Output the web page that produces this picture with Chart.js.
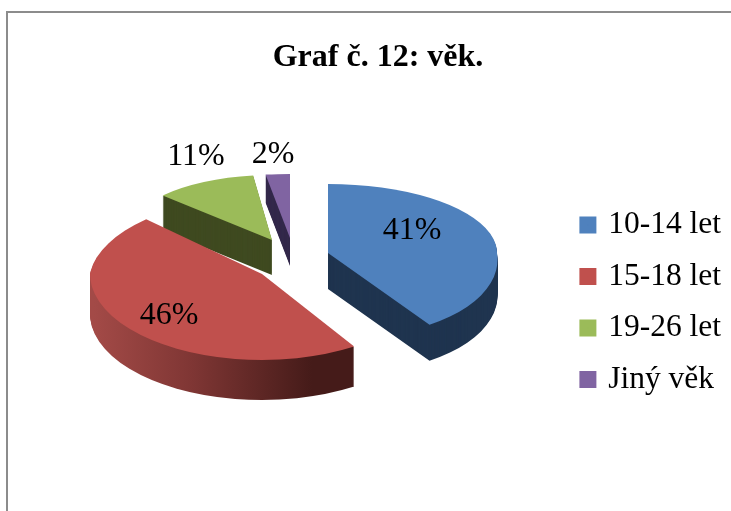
<!DOCTYPE html>
<html><head><meta charset="utf-8">
<style>html,body{margin:0;padding:0;background:#fff;overflow:hidden}canvas{display:block}</style>
<script src="https://cdn.jsdelivr.net/npm/chart.js@4"></script>
</head><body><canvas id="c" width="731" height="511"></canvas>
<script>
const categories = ['10-14 let','15-18 let','19-26 let','Jiný věk'];
const values = [41,46,11,2];
const topColors = ['#4f81bd','#c0504d','#9bbb59','#8064a2'];
const wallColors = ['#1f344f',null,'#3f4a20','#33284a'];
const chartTitle = 'Graf č. 12: věk.';
// 3D view of each slice: apex, horizontal radius, vertical radii above/below the apex, lean, wall depth
const apexX = [328,262,272,290];
const apexY = [253,274,240,238];
const radiusX = [169,172,150,195];
const radiusUp = [69,80,65,64];
const radiusDown = [85,86,65,64];
const leanUp = [0,-14,0,0];
const leanDown = [13,0,0,0];
const wallDepth = [36,40,35,28];
const labelX = [412,169,196,273];
const labelY = [231,316,157,155];
const drawOrder = [2,3,0,1];
const FONT = '"Liberation Serif","Times New Roman",serif';

const pie3d = {
  id:'pie3d',
  beforeDraw(chart){
    const ctx = chart.ctx;
    ctx.save();
    ctx.fillStyle='#fff'; ctx.fillRect(0,0,chart.width,chart.height);
    ctx.fillStyle='#8c8c8c';
    ctx.fillRect(6,11,2,chart.height-11);
    ctx.fillRect(6,11,chart.width-6,2);
    ctx.restore();
  },
  beforeDatasetsDraw(chart){
    const ctx = chart.ctx, arcs = chart.getDatasetMeta(0).data;
    const redWall = ctx.createLinearGradient(90,0,355,0);
    redWall.addColorStop(0,'#a34a47'); redWall.addColorStop(.45,'#7f3634'); redWall.addColorStop(1,'#451b19');
    const paint = (i,color,dy) => {
      const el = arcs[i];
      const proxy = Object.create(el);
      proxy.options = Object.assign({}, el.options, {backgroundColor:color,borderWidth:0});
      const R = el.outerRadius;
      const band = (top,h,ry,lean) => {
        ctx.save();
        ctx.beginPath(); ctx.rect(0,top,chart.width,h); ctx.clip();
        ctx.translate(apexX[i],apexY[i]+dy);
        ctx.transform(radiusX[i]/R,0,lean/R,ry/R,0,0);
        ctx.translate(-el.x,-el.y);
        proxy.draw(ctx);
        ctx.restore();
      };
      const split = apexY[i]+dy;
      band(0,split,radiusUp[i],leanUp[i]);
      band(split,chart.height-split,radiusDown[i],leanDown[i]);
    };
    drawOrder.forEach(i => {
      for(let d=wallDepth[i];d>0;d--) paint(i,wallColors[i]||redWall,d);
      paint(i,topColors[i],0);
    });
    ctx.save();
    ctx.fillStyle='#000'; ctx.font='32px '+FONT; ctx.textAlign='center'; ctx.textBaseline='middle';
    values.forEach((v,i)=>ctx.fillText(v+'%',labelX[i],labelY[i]));
    ctx.restore();
    return false;
  }
};

new Chart(document.getElementById('c'),{
  type:'pie',
  plugins:[pie3d],
  data:{labels:categories,datasets:[{data:values,backgroundColor:topColors,borderWidth:0}]},
  options:{
    responsive:false,animation:false,
    layout:{padding:{left:25,right:0,top:0,bottom:0}},
    plugins:{
      tooltip:{enabled:false},
      title:{display:true,text:chartTitle,color:'#000',font:{family:FONT,size:32,weight:'bold'},padding:{top:39,bottom:16}},
      legend:{position:'right',fullSize:false,labels:{
        color:'#000',font:{family:FONT,size:31.5},boxWidth:9,boxHeight:9,padding:20,
        generateLabels(chart){
          return Chart.overrides.doughnut.plugins.legend.labels.generateLabels(chart)
            .map(it=>Object.assign(it,{lineWidth:8,strokeStyle:it.fillStyle}));
        }
      }}
    }
  }
});
</script></body></html>
